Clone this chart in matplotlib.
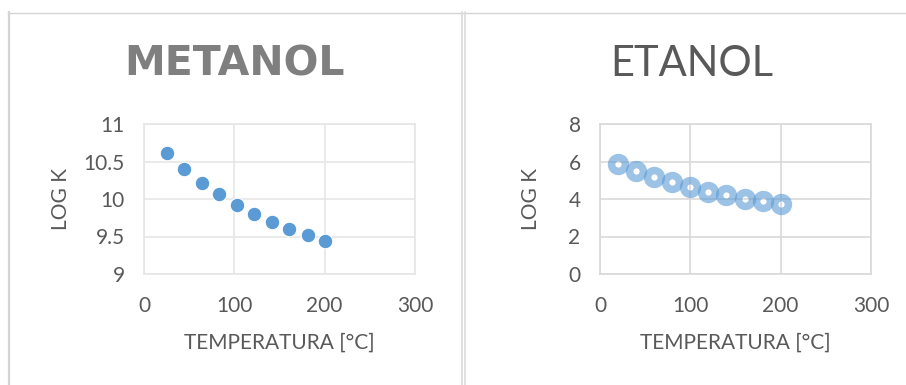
import matplotlib
matplotlib.use("Agg")
import matplotlib.pyplot as plt
from matplotlib.lines import Line2D

# Data
temp_met = [25, 44, 64, 83, 103, 122, 142, 161, 181, 200]
logk_met = [10.61, 10.40, 10.22, 10.07, 9.92, 9.80, 9.70, 9.60, 9.52, 9.44]
temp_et = [20, 40, 60, 80, 100, 120, 140, 160, 180, 200]
logk_et = [5.85, 5.48, 5.19, 4.89, 4.64, 4.39, 4.21, 4.00, 3.88, 3.73]

xticks = [0, 100, 200, 300]
yticks_met = [9, 9.5, 10, 10.5, 11]
yticks_met_labels = ["9", "9.5", "10", "10.5", "11"]
yticks_et = [0, 2, 4, 6, 8]

title_met = "METANOL"
title_et = "ETANOL"
xlabel = "TEMPERATURA [°C]"
ylabel = "LOG K"

W, H = 906, 385
fig = plt.figure(figsize=(W / 100, H / 100), dpi=100)
fig.patch.set_facecolor("white")

FONT = ["Lato", "DejaVu Sans"]
TXT = "#595959"
BLUE = "#5b9bd5"


def px_axes(l, r, t, b):
    return fig.add_axes([l / W, (H - b) / H, (r - l) / W, (b - t) / H])


def style(ax, gridc, yt, ylabs, ylim):
    ax.set_xlim(0, 300)
    ax.set_ylim(*ylim)
    ax.set_xticks(xticks)
    ax.set_xticklabels([str(v) for v in xticks], family=FONT, fontsize=15, color=TXT)
    ax.set_yticks(yt)
    ax.set_yticklabels(ylabs, family=FONT, fontsize=15, color=TXT)
    ax.tick_params(length=0, pad=14)
    ax.tick_params(axis="x", pad=16)
    ax.grid(True, color=gridc, lw=1.2)
    ax.set_axisbelow(True)
    for s in ax.spines.values():
        s.set_color(gridc)
        s.set_linewidth(1.2)
    ax.set_xlabel(xlabel, family=FONT, fontsize=15, color=TXT, labelpad=12)


# Left: METANOL
ax1 = px_axes(144, 415, 124, 274)
style(ax1, "#e6e6e6", yticks_met, yticks_met_labels, (9, 11))
ax1.plot(temp_met, logk_met, linestyle="none", marker="o", markersize=10.5,
         markerfacecolor=BLUE, markeredgecolor="white", markeredgewidth=0.8)
ax1.set_ylabel(ylabel, family=FONT, fontsize=15, color=TXT, labelpad=9)

# Right: ETANOL
ax2 = px_axes(600, 871, 124, 274)
style(ax2, "#d9d9d9", yticks_et, [str(v) for v in yticks_et], (0, 8))
ax2.plot(temp_et, logk_et, linestyle="none", marker="o", markersize=10,
         markerfacecolor="none", markeredgecolor=BLUE, markeredgewidth=5.4,
         alpha=0.6)
ax2.set_ylabel(ylabel, family=FONT, fontsize=15, color=TXT, labelpad=20)

# Titles
fig.text(234 / W, 1 - 64 / H, title_met, ha="center", va="center",
         family="DejaVu Sans", fontweight="bold", fontsize=29.5, color="#7f7f7f")
fig.text(692 / W, 1 - 64 / H, title_et, ha="center", va="center",
         family=FONT, fontsize=30, color=TXT)

# Panel borders
border = "#d4d4d4"
fig.add_artist(Line2D([8 / W, 1], [1 - 12.5 / H, 1 - 12.5 / H], color=border, lw=1.0,
                      transform=fig.transFigure))
fig.add_artist(Line2D([8.5 / W, 8.5 / W], [0, 1 - 12 / H], color=border, lw=1.6,
                      transform=fig.transFigure))
fig.add_artist(Line2D([461.5 / W, 461.5 / W], [0, 1 - 12 / H], color="#dcdcdc", lw=1.2,
                      transform=fig.transFigure))
fig.add_artist(Line2D([464.5 / W, 464.5 / W], [0, 1 - 12 / H], color="#dcdcdc", lw=1.2,
                      transform=fig.transFigure))

fig.savefig("out.png", dpi=100, facecolor="white")
